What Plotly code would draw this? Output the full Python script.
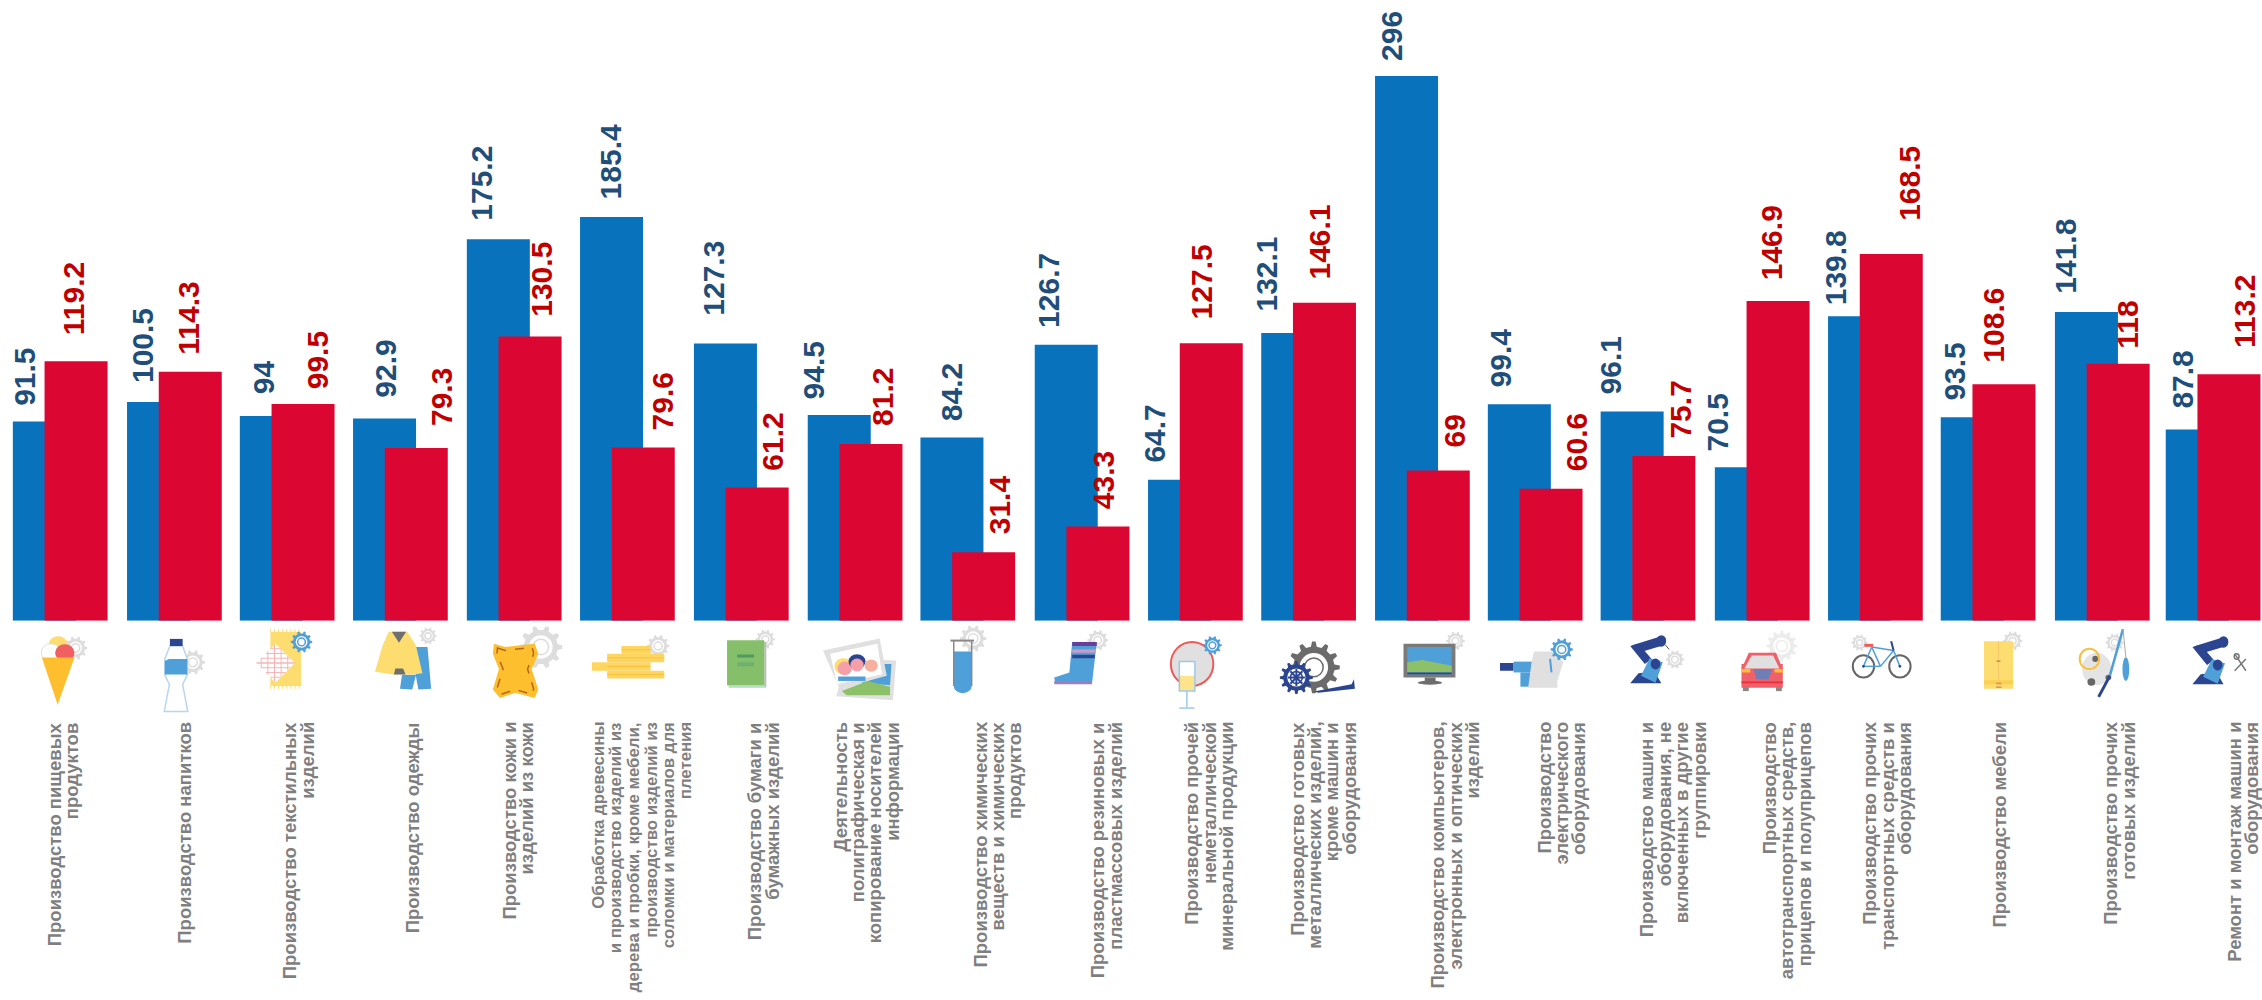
import math
import plotly.graph_objects as go

categories = [
    "Производство пищевых\nпродуктов",
    "Производство напитков",
    "Производство текстильных\nизделий",
    "Производство одежды",
    "Производство кожи и\nизделий из кожи",
    "Обработка древесины\nи производство изделий из\nдерева и пробки, кроме мебели,\nпроизводство изделий из\nсоломки и материалов для\nплетения",
    "Производство бумаги и\nбумажных изделий",
    "Деятельность\nполиграфическая и\nкопирование носителей\nинформации",
    "Производство химических\nвеществ и химических\nпродуктов",
    "Производство резиновых и\nпластмассовых изделий",
    "Производство прочей\nнеметаллической\nминеральной продукции",
    "Производство готовых\nметаллических изделий,\nкроме машин и\nоборудования",
    "Производство компьютеров,\nэлектронных и оптических\nизделий",
    "Производство\nэлектрического\nоборудования",
    "Производство машин и\nоборудования, не\nвключенных в другие\nгруппировки",
    "Производство\nавтотранспортных средств,\nприцепов и полуприцепов",
    "Производство прочих\nтранспортных средств и\nоборудования",
    "Производство мебели",
    "Производство прочих\nготовых изделий",
    "Ремонт и монтаж машин и\nоборудования",
]
blue_values = [91.5, 100.5, 94, 92.9, 175.2, 185.4, 127.3, 94.5, 84.2, 126.7,
               64.7, 132.1, 296, 99.4, 96.1, 70.5, 139.8, 93.5, 141.8, 87.8]
red_values = [119.2, 114.3, 99.5, 79.3, 130.5, 79.6, 61.2, 81.2, 31.4, 43.3,
              127.5, 146.1, 69, 60.6, 75.7, 146.9, 168.5, 108.6, 118, 113.2]
# the tallest bar is drawn shortened in the source chart
BAR_CAP = 250.2

# label and bar placement (separate from the data)
blue_dx = [-20, -15, -8, 1, -15.6, 0, -11, -23, 1, -15.5, -22.6, -23.7, -13, -16.6, -19.6, -26.5, -21.7, -16, -19, -14]
blue_gap = [16, 19, 21.7, 21, 19, 18, 27.5, 16, 16, 17, 17, 22, 15, 17, 17, 16, 11, 17, 18.5, 21]
red_dx = [-3, -1, 14.5, 25.7, 11.4, 19.5, 16.4, 13.8, 17, 8, -7.7, -3, 19.8, 27.4, 18.4, -3.7, 20.6, -8.3, 12.4, 15.5]
red_gap = [25.5, 17, 15, 21.7, 20, 17, 17, 18, 18, 17, 23.6, 23, 23, 18, 17, 21, 33, 22, 15, 26]
cat_px = [63, 183.7, 298.5, 412.8, 517.3, 642, 763, 866, 997, 1106, 1208.7, 1323, 1454.6, 1561,
          1673, 1786.7, 1886.8, 1998.5, 2119, 2242.5]
bar_nudge = [0, 0.9, 0.4, 0.3, 0.8, 0.7, 1.3, 1.8, 1.2, 2.2, 2.2, 2.1, 2.6, 2.1, 1.6, 2.5, 2.4, 1.8, 2.7, 0.2]

W, H = 2262, 1000
PITCH, CENTER0, BASE, PXU = 113.3, 60.2, 620.7, 2.177
BLUE, RED = "#0872BD", "#DC0632"
BLUE_TXT, RED_TXT, GRAY_TXT = "#1F4E79", "#C00000", "#7F7F7F"

fig = go.Figure()
fig.add_bar(x=categories, y=[min(v, BAR_CAP) for v in blue_values], width=0.556,
            offset=[-0.418 + n / PITCH for n in bar_nudge],
            marker=dict(color=BLUE, line=dict(width=0)), name="blue")
fig.add_bar(x=categories, y=red_values, width=0.556,
            offset=[-0.138 + n / PITCH for n in bar_nudge],
            marker=dict(color=RED, line=dict(width=0)), name="red")

ann = []
for i, (b, r) in enumerate(zip(blue_values, red_values)):
    for v, dx, gap, col, off in ((b, blue_dx[i], blue_gap[i], BLUE_TXT, -0.14),
                                 (r, red_dx[i], red_gap[i], RED_TXT, 0.14)):
        ann.append(dict(x=i, y=min(v, BAR_CAP), xref="x", yref="y", text=f"{v:g}", showarrow=False,
                        textangle=-90, xanchor="center", yanchor="bottom",
                        xshift=off * PITCH + dx, yshift=gap - 2,
                        font=dict(family="Liberation Sans", size=30, color=col, weight="bold")))
LINE = 17.5
for i, c in enumerate(categories):
    lines = c.split("\n")
    size = 16.8 if len(lines) == 6 else 18.5
    for j, t in enumerate(lines):
        ann.append(dict(x=(cat_px[i] + (j - (len(lines) - 1) / 2) * LINE) / W, y=1 - 720 / H,
                        xref="paper", yref="paper", text=t, showarrow=False, textangle=-90,
                        xanchor="center", yanchor="top",
                        font=dict(family="Liberation Sans", size=size, color=GRAY_TXT, weight="bold")))

# ---------- decorative pictograms ----------
shapes = []
STRIP = {1: (0, 1.96), 2: (790, 2.119), 3: (1500, 2.058)}
YS = 2.95
cur = [0, 1.96]


def strip(n):
    cur[0], cur[1] = STRIP[n]


def X(z):
    return (cur[0] + z / cur[1]) / W


def Y(z):
    return 1 - (625 + z / YS) / H


def poly(pts, fill, line=None, lw=1, dash=None, closed=True):
    d = "M" + " L".join(f"{X(a):.5f},{Y(b):.5f}" for a, b in pts) + (" Z" if closed else "")
    ln = dict(width=lw if line else 0, color=line or "rgba(0,0,0,0)")
    if dash:
        ln["dash"] = dash
    shapes.append(dict(type="path", xref="paper", yref="paper", path=d,
                       fillcolor=fill or "rgba(0,0,0,0)", line=ln))


def rect(x0, y0, x1, y1, fill):
    poly([(x0, y0), (x1, y0), (x1, y1), (x0, y1)], fill)


def ell(cx, cy, rx, ry, fill, line=None, lw=1):
    shapes.append(dict(type="circle", xref="paper", yref="paper",
                       x0=X(cx - rx), x1=X(cx + rx), y0=Y(cy + ry), y1=Y(cy - ry),
                       fillcolor=fill or "rgba(0,0,0,0)",
                       line=dict(width=lw if line else 0, color=line or "rgba(0,0,0,0)")))


def seg(a, b, color, lw=1):
    poly([a, b], None, color, lw, closed=False)


def gear(cx, cy, rx, color="#DDDDDD", teeth=10):
    ry = rx / cur[1] * YS
    pts = []
    for k in range(teeth):
        for da, rr in ((-0.27, 0.8), (-0.13, 1), (0.13, 1), (0.27, 0.8)):
            a = 2 * math.pi * (k + da * 1.0) / teeth
            pts.append((cx + rx * rr * math.cos(a), cy + ry * rr * math.sin(a)))
    poly(pts, color)
    ell(cx, cy, rx * 0.55, ry * 0.55, "white")
    ell(cx, cy, rx * 0.36, ry * 0.36, None, color, 1.5)


LB, NAVY, YEL, ORG, GR = "#4F9FD9", "#2B4590", "#FDDC70", "#FDBF2D", "#E0E0E0"

strip(1)
# ice cream
gear(148, 68, 23)
ell(114, 58, 19, 25, YEL)
ell(100, 82, 19, 27, "white", "#DDDDDD")
ell(127, 82, 19, 25, "#F06060")
poly([(82, 96), (146, 96), (113, 235)], ORG)
# bottle
gear(378, 110, 24)
poly([(333, 62), (358, 62), (367, 100), (367, 148), (358, 175), (368, 255), (322, 255), (332, 175), (323, 148), (323, 100)],
     "white", "#B8D6EE", 1.5)
poly([(331, 100), (367, 100), (367, 146), (323, 146), (323, 106)], LB)
rect(333, 41, 358, 62, NAVY)
# textile
rect(530, 20, 590, 180, YEL)
for zx in range(530, 592, 8):
    seg((zx, 12), (zx, 20), YEL, 1)
    seg((zx, 180), (zx, 188), YEL, 1)
poly([(503, 112), (540, 55), (578, 112), (540, 170)], "white")
for zy in range(70, 160, 14):
    hw = 37 * (1 - abs(zy - 112) / 58)
    seg((540 - hw, zy), (540 + hw, zy), "#F5B5B5", 1)
for zx in range(512, 578, 13):
    hh = 57 * (1 - abs(zx - 540) / 38)
    seg((zx, 112 - hh), (zx, 112 + hh), "#F5B5B5", 1)
seg((503, 112), (578, 112), "#F5B5B5", 1)
gear(591, 50, 21, LB)
# suit
gear(839, 32, 17)
poly([(815, 65), (838, 65), (845, 188), (820, 190), (815, 150), (808, 190), (784, 188), (788, 147), (815, 147)], LB)
poly([(762, 20), (798, 20), (815, 60), (828, 142), (810, 146), (770, 146), (755, 142), (735, 138), (750, 60)], YEL)
poly([(768, 20), (796, 20), (782, 52)], "#6E6E6E")
poly([(775, 128), (790, 128), (795, 146), (772, 146)], "#6E6E6E")
# leather
gear(1060, 65, 42)
poly([(968, 55), (990, 65), (1020, 60), (1048, 55), (1055, 85), (1042, 130), (1055, 190), (1048, 215), (1010, 200),
      (980, 215), (966, 190), (978, 130), (966, 85)], ORG)
poly([(975, 68), (990, 75), (1020, 70), (1043, 66), (1046, 85), (1034, 130), (1046, 188), (1043, 205), (1010, 190),
      (982, 205), (974, 188), (986, 130), (974, 85)], None, "#B5651D", 1.5, "dash")
# wood
gear(1290, 62, 22)
for b in ((1160, 110, 1190, 135), (1190, 85, 1302, 110), (1218, 62, 1275, 85), (1190, 110, 1275, 135), (1190, 135, 1302, 158)):
    rect(*b, "#FDD55F")
for zy in (73, 97, 122, 146):
    seg((1190 if zy != 73 else 1218, zy), (1302 if zy != 73 and zy != 122 else 1275, zy), "#F5C242", 1)
# book
gear(1500, 42, 19)
rect(1428, 178, 1502, 185, "#B5DBC0")
rect(1498, 50, 1502, 180, "#BBBBBB")
rect(1425, 45, 1498, 178, "#85BF6A")
rect(1445, 87, 1478, 96, "#4F9A60")
rect(1445, 110, 1478, 122, "#6FB070")

strip(2)
# photos
poly([(98, 210), (120, 100), (225, 105), (218, 222)], GR)
poly([(200, 115), (215, 115), (212, 178), (150, 170)], LB)
poly([(110, 195), (165, 165), (212, 182), (212, 207), (120, 207)], "#8CC16A")
poly([(70, 75), (190, 40), (205, 150), (105, 188)], GR)
poly([(85, 85), (185, 55), (195, 145), (100, 175)], "white")
ell(113, 122, 19, 24, YEL)
ell(116, 128, 15, 20, "#F5A0A8")
ell(142, 108, 18, 22, NAVY)
ell(142, 118, 14, 19, "#F5A0A8")
ell(172, 120, 14, 18, "#F5B0A0")
rect(102, 152, 160, 165, LB)
# tube
gear(388, 40, 28)
poly([(347, 78), (385, 78), (385, 180), (366, 200), (347, 180)], LB)
ell(366, 180, 19, 21, LB)
poly([(347, 46), (347, 180)], None, "#888888", 1.5, closed=False)
poly([(385, 46), (385, 180)], None, "#888888", 1.5, closed=False)
seg((340, 46), (390, 46), "#888888", 2)
# boot
gear(652, 45, 22)
poly([(598, 50), (650, 50), (640, 172), (562, 172), (560, 155), (592, 140)], LB)
rect(598, 50, 650, 62, "#6A3D9A")
rect(598, 72, 648, 82, "#C89BC8")
rect(598, 88, 646, 98, NAVY)
rect(560, 165, 640, 175, "#A07CC0")
# mirror and glass
ell(852, 115, 45, 65, GR, "#EE5A5A", 2)
gear(895, 60, 20, LB)
rect(825, 108, 858, 195, "white")
rect(825, 150, 858, 193, "#FDE38A")
poly([(825, 108), (858, 108), (858, 195), (825, 195)], None, "#9CC8E8", 1.5)
seg((841, 195), (841, 243), "#9CC8E8", 1.5)
seg((825, 245), (857, 245), "#9CC8E8", 1.5)
# gears and horn
gear(1110, 125, 55, "#6B6B6B", 12)
poly([(1110, 196), (1190, 175), (1195, 160), (1197, 188), (1120, 200)], NAVY)
gear(1073, 155, 35, NAVY, 12)
for a in range(0, 180, 45):
    ca, sa = math.cos(math.radians(a)), math.sin(math.radians(a))
    seg((1073 - 18 * ca, 155 - 26 * sa), (1073 + 18 * ca, 155 + 26 * sa), NAVY, 2)
# monitor
gear(1410, 47, 20)
rect(1300, 55, 1410, 155, "#7A7A7A")
rect(1308, 65, 1402, 145, LB)
poly([(1308, 110), (1340, 103), (1402, 120), (1402, 140), (1308, 140)], "#8CC16A")
rect(1308, 140, 1402, 145, NAVY)
rect(1345, 155, 1368, 166, "#6E6E6E")
ell(1356, 170, 26, 6, "#6E6E6E")

strip(3)
# drill and kettle
rect(0, 112, 28, 135, NAVY)
rect(28, 108, 68, 140, LB)
rect(42, 140, 62, 182, LB)
poly([(70, 78), (112, 78), (130, 110), (118, 165), (118, 185), (58, 185), (65, 110)], GR)
gear(127, 72, 23, LB)
seg((103, 100), (106, 140), LB, 2)


def robot(dx, dy):
    ell(dx + 332, dy + 47, 10, 17, NAVY)
    poly([(dx + 268, dy + 172), (dx + 285, dy + 142), (dx + 318, dy + 137), (dx + 332, dy + 172)], NAVY)
    poly([(dx + 272, dy + 60), (dx + 335, dy + 32), (dx + 340, dy + 58), (dx + 285, dy + 82)], NAVY)
    poly([(dx + 268, dy + 62), (dx + 285, dy + 55), (dx + 312, dy + 100), (dx + 298, dy + 115)], NAVY)
    poly([(dx + 290, dy + 150), (dx + 308, dy + 98), (dx + 335, dy + 110), (dx + 320, dy + 170)], LB)
    ell(dx + 320, dy + 115, 10, 16, NAVY)


gear(360, 102, 19)
robot(0, 0)
seg((340, 58), (348, 72), "#555555", 1)
# car
gear(580, 62, 32, "#ECECEC", 12)
rect(500, 182, 512, 195, "#888888")
rect(568, 182, 580, 195, "#888888")
rect(497, 115, 582, 185, "#F0606A")
poly([(512, 82), (568, 82), (582, 130), (497, 130)], "#F0606A")
poly([(518, 90), (562, 90), (575, 128), (503, 128)], GR)
poly([(522, 130), (560, 130), (553, 160), (528, 160)], "#6F7FB5")
rect(497, 130, 515, 140, ORG)
rect(565, 130, 582, 140, ORG)
rect(497, 167, 582, 172, "#E8303C")
# bicycle
gear(740, 52, 17)
ell(748, 122, 22, 33, None, "#666666", 2)
ell(823, 122, 22, 33, None, "#666666", 2)
for a, b in (((748, 122), (765, 65)), ((765, 65), (810, 75)), ((810, 75), (823, 122)), ((765, 65), (783, 122)),
             ((783, 122), (810, 75)), ((748, 122), (783, 122))):
    seg(a, b, LB, 1.5)
seg((750, 60), (768, 60), "#EE5A5A", 3)
seg((805, 48), (810, 75), NAVY, 2)
ell(748, 122, 3, 4, NAVY)
ell(823, 122, 3, 4, NAVY)
# wardrobe
gear(1055, 47, 20)
rect(996, 48, 1056, 188, YEL)
seg((1026, 48), (1026, 163), "#F5C96A", 1)
rect(996, 163, 1056, 175, "#FBD050")
rect(1022, 105, 1030, 108, "#B5651D")
rect(1021, 170, 1032, 175, "#D9995A")
rect(1021, 181, 1032, 186, "#D9995A")
# other goods
gear(1265, 52, 19)
ell(1228, 130, 30, 48, "#E4E4E4")
ell(1217, 168, 8, 11, "#666666")
ell(1252, 155, 6, 8, "#666666")
ell(1225, 100, 6, 9, "#666666")
ell(1213, 100, 20, 30, None, "#F8C040", 2)
seg((1255, 150), (1282, 12), LB, 2.5)
seg((1232, 212), (1255, 150), NAVY, 3)
seg((1282, 12), (1288, 95), "#AAAAAA", 1)
ell(1288, 130, 7, 35, LB)
# repair robot
robot(1157, 3)
seg((1512, 85), (1535, 135), "#777777", 1.5)
seg((1535, 100), (1512, 135), "#777777", 1.5)
ell(1516, 93, 5, 8, None, "#777777", 1.5)

fig.update_layout(
    width=W, height=H, showlegend=False, barmode="overlay",
    paper_bgcolor="white", plot_bgcolor="white",
    margin=dict(l=0, r=0, t=0, b=0, pad=0),
    xaxis=dict(type="category", domain=[0, 1], visible=False, showgrid=False,
               range=[-CENTER0 / PITCH, (W - CENTER0) / PITCH]),
    yaxis=dict(domain=[1 - BASE / H, 1], visible=False, showgrid=False, range=[0, BASE / PXU]),
    annotations=ann, shapes=shapes,
)
fig.write_html("out.html", post_script="document.body.style.margin='0';document.body.style.overflow='hidden';",
               config=dict(displayModeBar=False))
